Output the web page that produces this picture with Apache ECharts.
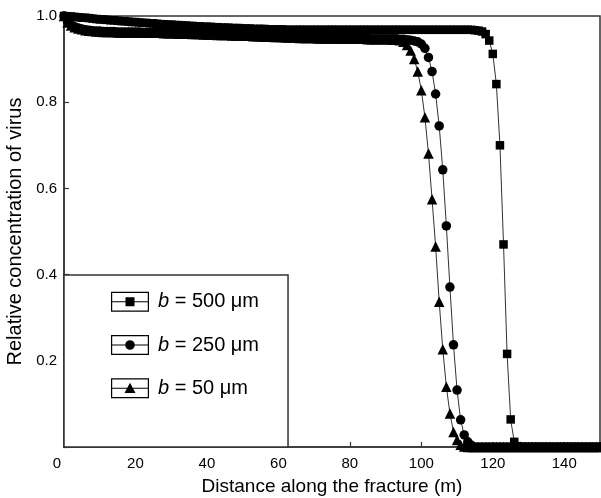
<!DOCTYPE html>
<html>
<head>
<meta charset="utf-8">
<script src="https://cdn.jsdelivr.net/npm/echarts@6/dist/echarts.min.js"></script>
<style>
  html, body { margin: 0; padding: 0; background: #fff; }
  #chart { width: 601px; height: 498px; }
</style>
</head>
<body>
<div id="chart"></div>
<script>
// distance along the fracture (m), one point per metre
var distance = [
  0,1,2,3,4,5,6,7,8,9,10,11,12,13,14,15,16,17,18,19,20,21,22,23,24,25,26,27,28,29,
  30,31,32,33,34,35,36,37,38,39,40,41,42,43,44,45,46,47,48,49,50,51,52,53,54,55,56,57,58,59,
  60,61,62,63,64,65,66,67,68,69,70,71,72,73,74,75,76,77,78,79,80,81,82,83,84,85,86,87,88,89,
  90,91,92,93,94,95,96,97,98,99,100,101,102,103,104,105,106,107,108,109,110,111,112,113,114,115,116,117,118,119,
  120,121,122,123,124,125,126,127,128,129,130,131,132,133,134,135,136,137,138,139,140,141,142,143,144,145,146,147,148,149,150
];

// b = 500 um (squares)
var conc500 = [
  1.000,0.999,0.999,0.998,0.997,0.996,0.996,0.995,0.994,0.993,
  0.992,0.992,0.991,0.990,0.990,0.989,0.988,0.988,0.987,0.986,
  0.986,0.985,0.984,0.984,0.983,0.983,0.982,0.981,0.981,0.980,
  0.980,0.979,0.979,0.978,0.978,0.977,0.977,0.976,0.976,0.975,
  0.975,0.975,0.974,0.974,0.973,0.973,0.973,0.972,0.972,0.972,
  0.971,0.971,0.971,0.970,0.970,0.970,0.970,0.969,0.969,0.969,
  0.969,0.969,0.968,0.968,0.968,0.968,0.968,0.968,0.968,0.968,
  0.968,0.968,0.968,0.968,0.968,0.968,0.968,0.968,0.968,0.968,
  0.968,0.968,0.968,0.968,0.968,0.968,0.968,0.968,0.968,0.968,
  0.968,0.968,0.968,0.968,0.968,0.968,0.968,0.968,0.968,0.968,
  0.968,0.968,0.968,0.968,0.968,0.968,0.968,0.968,0.968,0.968,
  0.968,0.968,0.968,0.968,0.968,0.967,0.966,0.964,0.958,0.943,
  0.912,0.842,0.700,0.470,0.216,0.064,0.012,0.002,0,0,
  0,0,0,0,0,0,0,0,0,0,
  0,0,0,0,0,0,0,0,0,0,0
];

// b = 250 um (circles)
var conc250 = [
  1.000,0.986,0.979,0.975,0.972,0.970,0.968,0.967,0.966,0.965,
  0.965,0.964,0.964,0.964,0.964,0.963,0.963,0.963,0.963,0.963,
  0.963,0.963,0.962,0.962,0.962,0.962,0.962,0.962,0.961,0.961,
  0.961,0.961,0.960,0.960,0.960,0.960,0.959,0.959,0.959,0.958,
  0.958,0.958,0.958,0.957,0.957,0.957,0.957,0.956,0.956,0.956,
  0.955,0.955,0.955,0.954,0.954,0.954,0.953,0.953,0.953,0.952,
  0.952,0.952,0.951,0.951,0.951,0.951,0.950,0.950,0.950,0.950,
  0.950,0.949,0.949,0.949,0.949,0.949,0.949,0.948,0.948,0.948,
  0.948,0.948,0.948,0.948,0.948,0.948,0.947,0.947,0.947,0.947,
  0.947,0.947,0.947,0.947,0.946,0.946,0.945,0.944,0.942,0.940,
  0.935,0.925,0.904,0.871,0.819,0.745,0.643,0.513,0.371,0.237,
  0.132,0.063,0.028,0.012,0.004,0,0,0,0,0,
  0,0,0,0,0,0,0,0,0,0,
  0,0,0,0,0,0,0,0,0,0,
  0,0,0,0,0,0,0,0,0,0,0
];

// b = 50 um (triangles)
var conc50 = [
  1.000,0.985,0.978,0.974,0.971,0.969,0.967,0.966,0.965,0.964,
  0.964,0.963,0.963,0.963,0.963,0.962,0.962,0.962,0.962,0.962,
  0.962,0.962,0.961,0.961,0.961,0.961,0.961,0.961,0.960,0.960,
  0.960,0.960,0.959,0.959,0.959,0.959,0.958,0.958,0.958,0.957,
  0.957,0.957,0.957,0.956,0.956,0.956,0.956,0.955,0.955,0.955,
  0.954,0.954,0.954,0.953,0.953,0.953,0.952,0.952,0.952,0.951,
  0.951,0.951,0.950,0.950,0.950,0.950,0.949,0.949,0.949,0.949,
  0.949,0.948,0.948,0.948,0.948,0.948,0.948,0.947,0.947,0.947,
  0.947,0.947,0.947,0.947,0.947,0.946,0.946,0.946,0.946,0.946,
  0.946,0.946,0.945,0.945,0.944,0.940,0.933,0.920,0.900,0.871,
  0.828,0.765,0.681,0.575,0.465,0.337,0.227,0.140,0.078,0.035,
  0.016,0.005,0.001,0,0,0,0,0,0,0,
  0,0,0,0,0,0,0,0,0,0,
  0,0,0,0,0,0,0,0,0,0,
  0,0,0,0,0,0,0,0,0,0,0
];

var seriesNames = ['b = 500 μm', 'b = 250 μm', 'b = 50 μm'];
var xTicks = [0, 20, 40, 60, 80, 100, 120, 140];
var yTicks = [0.2, 0.4, 0.6, 0.8, 1.0];

function pairs(ys) {
  return distance.map(function (x, i) { return [x, ys[i]]; });
}

// legend icons: framed box with a line and the marker (Origin style)
var frame = 'M0 0H38V20H0Z M1.2 1.2V18.8H36.8V1.2Z M1.2 9.5H36.8V10.5H1.2Z ';
var iconSquare = 'path://' + frame + 'M14.5 5.5H23.5V14.5H14.5Z';
var iconCircle = 'path://' + frame + 'M23.8 10A4.8 4.8 0 1 1 14.2 10A4.8 4.8 0 1 1 23.8 10Z';
var iconTriangle = 'path://' + frame + 'M19 4.5L24.5 14.8H13.5Z';

var font = 'Liberation Sans';

function makeSeries(name, ys, symbol, size) {
  return {
    name: name,
    type: 'line',
    data: pairs(ys),
    symbol: symbol,
    symbolSize: size,
    showSymbol: true,
    clip: true,
    lineStyle: { color: '#333', width: 1 },
    itemStyle: { color: '#000', borderWidth: 0 },
    emphasis: { disabled: true }
  };
}

var chart = echarts.init(document.getElementById('chart'));
chart.setOption({
  animation: false,
  backgroundColor: '#fff',
  textStyle: { fontFamily: font, color: '#000' },
  grid: {
    left: 64, right: 1, top: 16, bottom: 51,
    outerBoundsMode: 'none',
    containLabel: false,
    show: true, borderColor: '#333', borderWidth: 1.5, backgroundColor: 'transparent'
  },
  legend: {
    orient: 'vertical',
    left: 64, top: 275,
    padding: [16.7, 29, 48.7, 47],
    itemGap: 23.3,
    itemWidth: 38, itemHeight: 20,
    backgroundColor: '#fff',
    borderColor: '#333', borderWidth: 1.5, borderRadius: 0,
    selectedMode: false,
    itemStyle: { color: '#000', borderWidth: 0 },
    data: [
      { name: seriesNames[0], icon: iconSquare },
      { name: seriesNames[1], icon: iconCircle },
      { name: seriesNames[2], icon: iconTriangle }
    ],
    formatter: function (name) {
      return '{i|b}{t|' + name.slice(1) + '}';
    },
    textStyle: {
      width: 110,
      fontFamily: font,
      fontSize: 20,
      color: '#000',
      rich: {
        i: { fontStyle: 'italic', fontSize: 20, fontFamily: font, padding: [0, 0, 0, 4] },
        t: { fontSize: 20, fontFamily: font }
      }
    }
  },
  xAxis: {
    type: 'value',
    min: 0, max: 150, interval: 20,
    name: 'Distance along the fracture (m)',
    nameLocation: 'middle',
    nameGap: 30,
    nameTextStyle: { fontSize: 19, fontFamily: font, color: '#000' },
    axisLine: { show: true, onZero: false, lineStyle: { color: '#333', width: 1.5 } },
    axisTick: { show: true, inside: true, length: 5, lineStyle: { color: '#333', width: 1.2 } },
    axisLabel: {
      fontSize: 15, fontFamily: font, color: '#000', margin: 9,
      showMaxLabel: false,
      formatter: function (v) {
        if (v === 0) return '{z|0}';
        return xTicks.indexOf(v) >= 0 ? String(v) : '';
      },
      rich: { z: { fontSize: 15, fontFamily: font, color: '#000', padding: [0, 14, 0, 0] } }
    },
    splitLine: { show: false }
  },
  yAxis: {
    type: 'value',
    min: 0, max: 1, interval: 0.2,
    name: 'Relative concentration of virus',
    nameLocation: 'middle',
    nameGap: 36,
    nameTextStyle: { fontSize: 20, fontFamily: font, color: '#000' },
    axisLine: { show: true, onZero: false, lineStyle: { color: '#333', width: 1.5 } },
    axisTick: { show: true, inside: true, length: 5, lineStyle: { color: '#333', width: 1.2 } },
    axisLabel: {
      fontSize: 15, fontFamily: font, color: '#000', margin: 7,
      formatter: function (v) {
        var t = yTicks.filter(function (k) { return Math.abs(k - v) < 1e-6; });
        return t.length ? t[0].toFixed(1) : '';
      }
    },
    splitLine: { show: false }
  },
  series: [
    makeSeries(seriesNames[0], conc500, 'rect', 8.5),
    makeSeries(seriesNames[1], conc250, 'circle', 9.5),
    makeSeries(seriesNames[2], conc50, 'triangle', 10.5)
  ]
});
</script>
</body>
</html>
